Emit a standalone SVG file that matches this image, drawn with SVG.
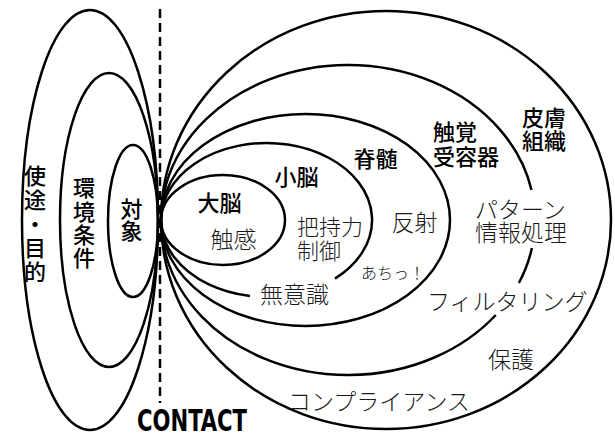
<svg xmlns="http://www.w3.org/2000/svg" width="615" height="434" viewBox="0 0 615 434">
<style>
.e{fill:none;stroke:#000;stroke-width:2.5}
.b{font-family:"Noto Sans CJK JP","Noto Sans",sans-serif;font-weight:500;font-size:22px;fill:#000;dominant-baseline:central}
.t{font-family:"Noto Sans CJK JP","Noto Sans",sans-serif;font-weight:300;font-size:23px;fill:#1a1a1a;dominant-baseline:central}
.v{font-family:"Noto Sans CJK JP","Noto Sans",sans-serif;font-weight:500;font-size:22px;fill:#000;writing-mode:vertical-rl;text-anchor:start}
.c{text-anchor:middle}
</style>
<rect width="615" height="434" fill="#fff"/>
<g id="connectors">
<line x1="160" y1="9" x2="160" y2="403" stroke="#000" stroke-width="2.5" stroke-dasharray="9,5"/>
</g>
<g id="purpose">
<ellipse class="e" cx="90" cy="220" rx="68" ry="210"/>
<text class="v" x="35" y="165" style="letter-spacing:1.8px">使途・目的</text>
</g>
<g id="environment">
<ellipse class="e" cx="109" cy="220" rx="49" ry="147"/>
<text class="v" x="84" y="177" style="letter-spacing:1.3px">環境条件</text>
</g>
<g id="object">
<ellipse class="e" cx="133" cy="221" rx="25" ry="76"/>
<text class="v" x="131.5" y="198" style="letter-spacing:0px">対象</text>
</g>
<g id="cerebrum">
<ellipse class="e" cx="223" cy="220" rx="62" ry="45"/>
<text class="b c" x="219.5" y="201">大脳</text>
<text class="t c" x="233.5" y="237.5">触感</text>
</g>
<g id="cerebellum">
<path class="e" d="M335,278.6 A105.5,77 0 1 0 250,296.05"/>
<text class="b c" x="296.5" y="175">小脳</text>
<text class="t" x="297" y="225" style="font-size:22px">把持力</text>
<text class="t" x="297" y="249" style="font-size:22px">制御</text>
<text class="t" x="260" y="292.5">無意識</text>
</g>
<g id="spinal">
<ellipse class="e" cx="305.5" cy="220" rx="144.5" ry="106"/>
<text class="b c" x="375.5" y="157">脊髄</text>
<text class="t c" x="414.5" y="221">反射</text>
<text class="t" x="361" y="271.5" style="font-size:16px">あちっ！</text>
</g>
<g id="receptor">
<path class="e" d="M531.5,190 A187,155 0 1 0 495.8,315"/>
<path class="e" d="M531.9,248 A187,155 0 0 1 518.9,283"/>
<text class="b" x="433" y="130">触覚</text>
<text class="b" x="433" y="155">受容器</text>
<text class="t" x="475" y="207.5">パターン</text>
<text class="t" x="475" y="231">情報処理</text>
<text class="t" x="427" y="300">フィルタリング</text>
</g>
<g id="skin">
<ellipse class="e" cx="386" cy="220" rx="225" ry="209"/>
<text class="b" x="522" y="116">皮膚</text>
<text class="b" x="522" y="139">組織</text>
<text class="t" x="488" y="358">保護</text>
<text class="t" x="288" y="399.5">コンプライアンス</text>
</g>
<g id="contact">
<text x="137" y="431" textLength="110" lengthAdjust="spacingAndGlyphs" style="font-family:'Liberation Sans Narrow','DejaVu Sans Condensed','Liberation Sans',sans-serif;font-weight:bold;font-size:30px;fill:#000">CONTACT</text>
</g>
</svg>
